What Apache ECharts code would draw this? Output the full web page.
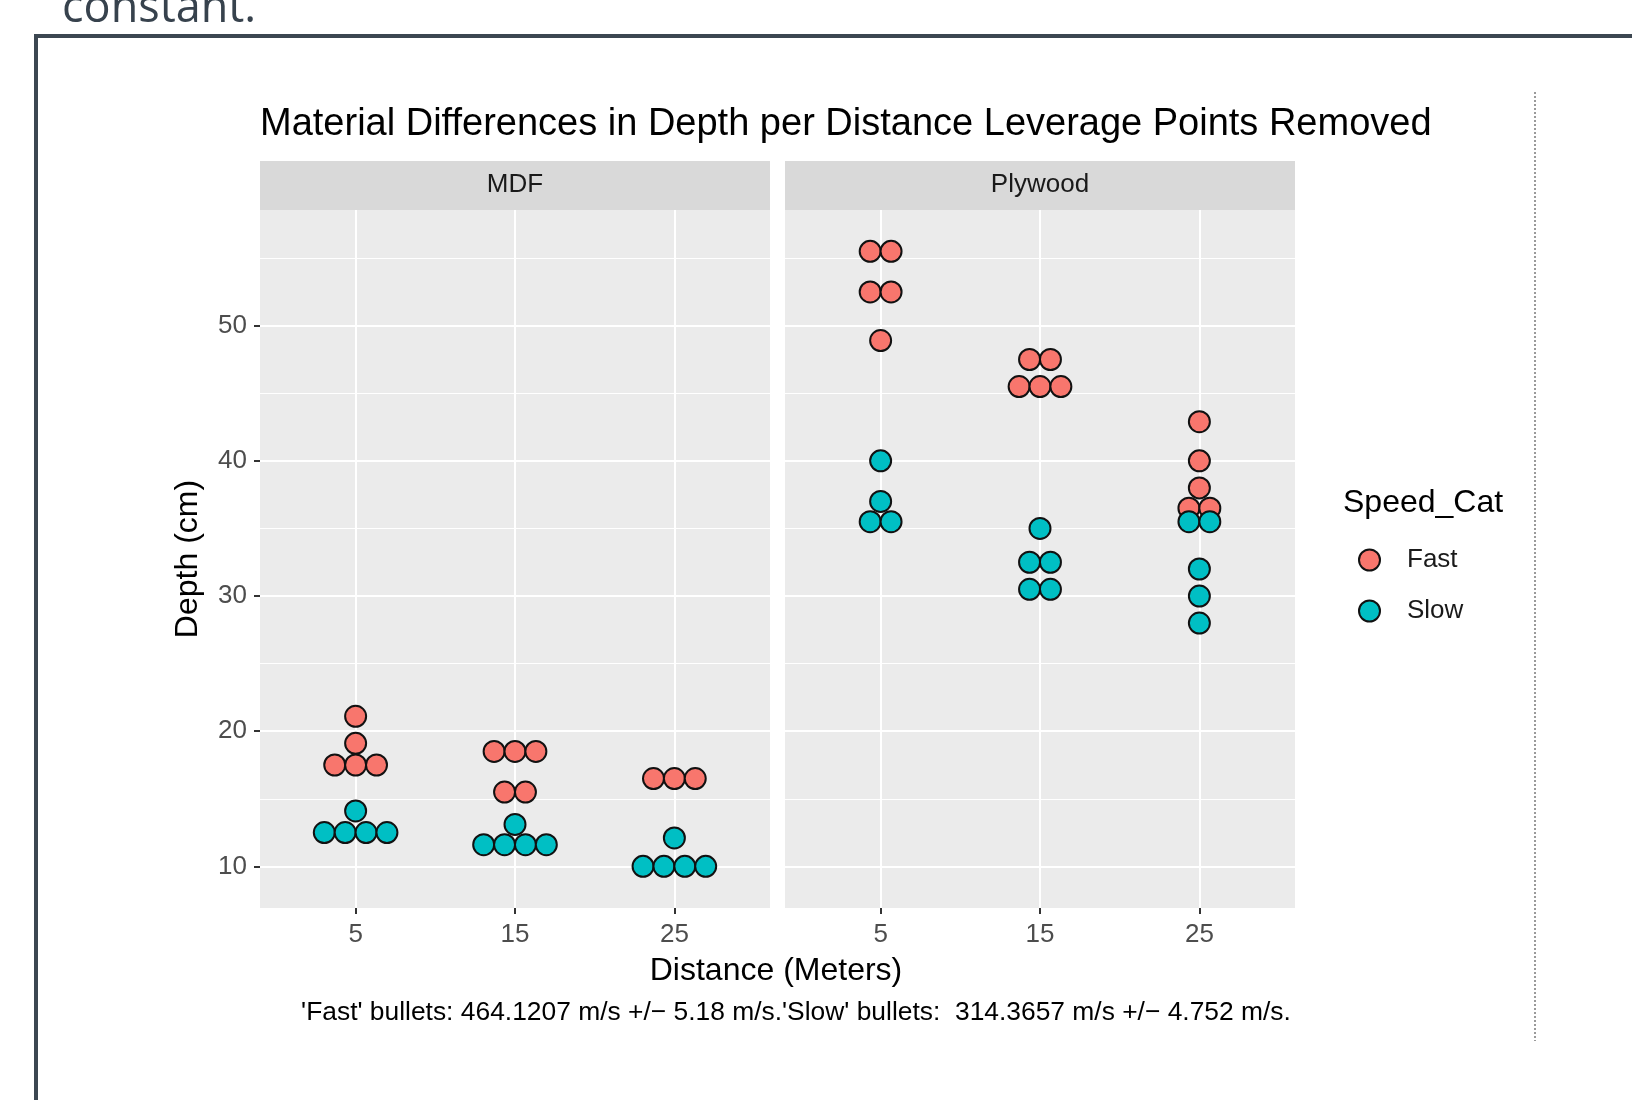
<!DOCTYPE html>
<html>
<head>
<meta charset="utf-8">
<script src="https://cdn.jsdelivr.net/npm/echarts@6.0.0/dist/echarts.min.js"></script>
<style>
  body { margin: 0; background: #fff; }
  #depthChart { width: 1632px; height: 1100px; }
</style>
</head>
<body>
<div id="depthChart"></div>
<script>
// values (cm), one list per distance: 5, 15, 25 m
const distances = ['5', '15', '25'];
const panels = ['MDF', 'Plywood'];
const mdfFast = [[21.1, 19.1, 17.5, 17.5, 17.5], [18.5, 18.5, 18.5, 15.5, 15.5], [16.5, 16.5, 16.5]];
const mdfSlow = [[14.1, 12.5, 12.5, 12.5, 12.5], [13.1, 11.6, 11.6, 11.6, 11.6], [12.1, 10, 10, 10, 10]];
const plyFast = [[55.5, 55.5, 52.5, 52.5, 48.9], [47.5, 47.5, 45.5, 45.5, 45.5], [42.9, 40, 38, 36.5, 36.5]];
const plySlow = [[40, 37, 35.5, 35.5], [35, 32.5, 32.5, 30.5, 30.5], [35.5, 35.5, 32, 30, 28]];
const yTicks = [10, 20, 30, 40, 50];
const yMinor = [15, 25, 35, 45, 55];

var FAST = '#F8766D', SLOW = '#00BFC4';
var BINW = 0.131; // dot width in category units

// centre-stack dots that share a bin, like geom_dotplot(stackdir = "center")
function stackDots(groups) {
  var out = [];
  groups.forEach(function (vals, i) {
    var counts = {};
    vals.forEach(function (v) { counts[v] = (counts[v] || 0) + 1; });
    Object.keys(counts).forEach(function (k) {
      var n = counts[k];
      for (var j = 0; j < n; j++) {
        out.push([i + 1 + (j - (n - 1) / 2) * BINW, +k]);
      }
    });
  });
  return out;
}

var chart = echarts.init(document.getElementById('depthChart'));
var font = 'Liberation Sans, Arial, sans-serif';
var panelLeft = [260, 785];
var panelTop = 210, panelW = 510, panelH = 698;

function xAxisFor(i) {
  return {
    type: 'value', gridIndex: i, min: 0.4, max: 3.6,
    axisLine: { show: false },
    axisTick: { show: true, customValues: [1, 2, 3], length: 6, lineStyle: { color: '#333', width: 2 } },
    axisLabel: {
      customValues: [1, 2, 3], margin: 14, fontSize: 26, color: '#4D4D4D', fontFamily: font,
      formatter: function (v) { return distances[Math.round(v) - 1]; }
    },
    splitLine: { show: true, lineStyle: { color: '#fff', width: 2 } }
  };
}
function yAxisFor(i) {
  return {
    type: 'value', gridIndex: i, min: 6.92, max: 58.56,
    name: i === 0 ? 'Depth (cm)' : '', nameLocation: 'middle', nameGap: 56, nameRotate: 90,
    nameTextStyle: { fontSize: 32, color: '#000', fontFamily: font },
    axisLine: { show: false },
    axisTick: { show: i === 0, customValues: yTicks, length: 6, lineStyle: { color: '#333', width: 2 } },
    axisLabel: { show: i === 0, customValues: yTicks, margin: 13, fontSize: 26, color: '#4D4D4D', fontFamily: font },
    splitLine: { show: true, lineStyle: { color: '#fff', width: 2 } }
  };
}
function minorAxisFor(i) {
  return {
    type: 'value', gridIndex: i, min: 6.92, max: 58.56, position: 'left',
    axisLine: { show: false }, axisTick: { show: false, customValues: yMinor },
    axisLabel: { show: false, customValues: yMinor },
    splitLine: { show: true, lineStyle: { color: '#fff', width: 1 } }
  };
}

function dotSeries(name, color, groups, i) {
  return {
    name: name, type: 'scatter', xAxisIndex: i, yAxisIndex: i,
    symbol: 'circle', symbolSize: 21,
    itemStyle: { color: color, borderColor: '#111', borderWidth: 2, opacity: 1 },
    data: stackDots(groups), z: 3
  };
}

var graphics = [
  // slide frame and cut-off text above it
  { type: 'text', left: 62, top: -13, style: { text: 'constant.', font: '45px "Open Sans"', fill: '#37424D' } },
  { type: 'rect', shape: { x: 36, y: 36, width: 1700, height: 1200 }, style: { fill: 'none', stroke: '#3C4751', lineWidth: 4 } },
  { type: 'line', shape: { x1: 1535, y1: 92, x2: 1535, y2: 1041 }, style: { stroke: '#9A9A9A', lineWidth: 2, lineDash: [2, 2] } },
  { type: 'text', left: 1343, top: 487, style: { text: 'Speed_Cat', font: '32px ' + font, fill: '#000' } },
  { type: 'text', x: 776, y: 971, style: { text: 'Distance (Meters)', font: '32px ' + font, fill: '#000', textAlign: 'center', textVerticalAlign: 'middle' } },
  { type: 'text', x: 796, y: 1013, style: { text: "'Fast' bullets: 464.1207 m/s +/\u2212 5.18 m/s.'Slow' bullets:  314.3657 m/s +/\u2212 4.752 m/s.", font: '26.4px ' + font, fill: '#000', textAlign: 'center', textVerticalAlign: 'middle' } }
];
panels.forEach(function (p, i) {
  graphics.push({ type: 'rect', shape: { x: panelLeft[i], y: 161, width: panelW, height: 49 }, style: { fill: '#D9D9D9' } });
  graphics.push({ type: 'text', x: panelLeft[i] + panelW / 2, y: 185, style: { text: p, font: '26px ' + font, fill: '#1A1A1A', textAlign: 'center', textVerticalAlign: 'middle' } });
});

var option = {
  animation: false,
  backgroundColor: '#fff',
  title: {
    text: 'Material Differences in Depth per Distance Leverage Points Removed',
    left: 260, top: 106, padding: 0,
    textStyle: { fontSize: 38, fontWeight: 'normal', color: '#000', fontFamily: font }
  },
  grid: panelLeft.map(function (l) {
    return { left: l, top: panelTop, width: panelW, height: panelH, show: true, backgroundColor: '#EBEBEB', borderWidth: 0 };
  }),
  xAxis: [xAxisFor(0), xAxisFor(1)],
  yAxis: [yAxisFor(0), yAxisFor(1), minorAxisFor(0), minorAxisFor(1)],
  legend: {
    orient: 'vertical', left: 1358, top: 547, padding: 0, itemWidth: 21, itemHeight: 21, itemGap: 25,
    icon: 'circle', data: ['Fast', 'Slow'],
    textStyle: { fontSize: 26, color: '#1A1A1A', fontFamily: font, padding: [0, 0, 0, 22] }
  },
  graphic: graphics,
  series: [
    dotSeries('Fast', FAST, mdfFast, 0),
    dotSeries('Slow', SLOW, mdfSlow, 0),
    dotSeries('Fast', FAST, plyFast, 1),
    dotSeries('Slow', SLOW, plySlow, 1)
  ]
};

chart.setOption(option);
</script>
</body>
</html>
